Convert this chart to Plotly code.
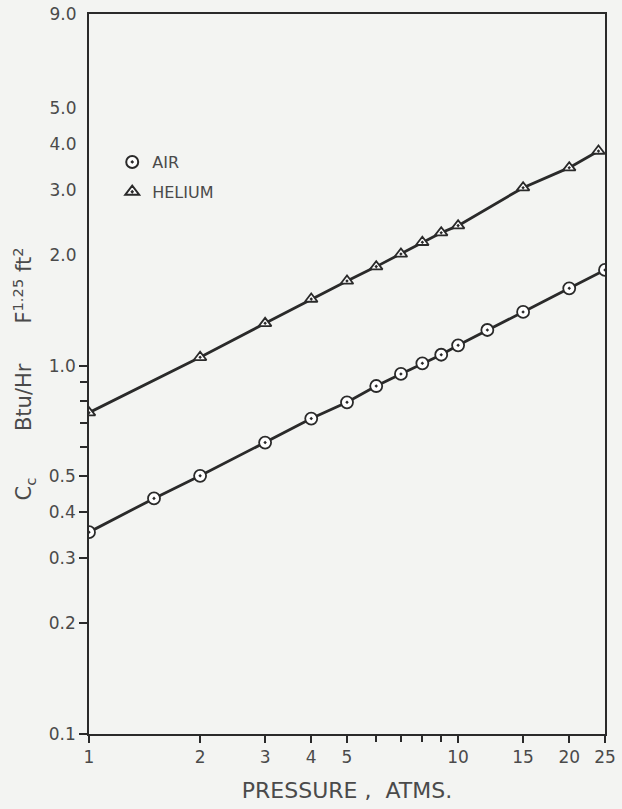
import plotly.graph_objects as go

# Data
air_p = [1, 1.5, 2, 3, 4, 5, 6, 7, 8, 9, 10, 12, 15, 20, 25]
air_c = [0.353, 0.436, 0.502, 0.618, 0.718, 0.795, 0.880, 0.949, 1.014, 1.070, 1.135, 1.249, 1.398, 1.621, 1.818]
he_p = [1, 2, 3, 4, 5, 6, 7, 8, 9, 10, 15, 20, 24]
he_c = [0.745, 1.053, 1.302, 1.516, 1.697, 1.856, 2.009, 2.161, 2.295, 2.398, 3.040, 3.445, 3.823]

x_tickvals = [1, 2, 3, 4, 5, 10, 15, 20, 25]
x_ticktext = ["1", "2", "3", "4", "5", "10", "15", "20", "25"]
x_minor = [6, 7, 8, 9]
y_tickvals_lo = [0.1, 0.2, 0.3, 0.4, 0.5, 1.0]
y_ticktext_lo = ["0.1", "0.2", "0.3", "0.4", "0.5", "1.0"]
y_minor = [0.6, 0.7, 0.8, 0.9]
y_tickvals_hi = [2.0, 3.0, 4.0, 5.0, 9.0]
y_ticktext_hi = ["2.0", "3.0", "4.0", "5.0", "9.0"]

ink = "#2a2a2a"
txt = "#4a4a4a"
bg = "#f3f4f2"
font = "DejaVu Sans"
xr = [0, 1.39794]
yr = [-1, 0.95424]

fig = go.Figure()
fig.add_trace(go.Scatter(x=air_p, y=air_c, mode="lines+markers", showlegend=False,
                         line=dict(color=ink, width=2.8),
                         marker=dict(symbol="circle-dot", size=12, color="white",
                                     line=dict(color=ink, width=1.8))))
fig.add_trace(go.Scatter(x=he_p, y=he_c, mode="lines+markers", showlegend=False,
                         line=dict(color=ink, width=2.8),
                         marker=dict(symbol="triangle-up-dot", size=11, color="white",
                                     line=dict(color=ink, width=1.8))))
# legend-only traces
fig.add_trace(go.Scatter(x=[None], y=[None], mode="markers", name="AIR", legendgroup="a",
                         marker=dict(symbol="circle-dot", size=10, color="white",
                                     line=dict(color=ink, width=1.6))))
fig.add_trace(go.Scatter(x=[None], y=[None], mode="markers", name="HELIUM", legendgroup="h",
                         marker=dict(symbol="triangle-up-dot", size=9, color="white",
                                     line=dict(color=ink, width=1.6))))
# dummy traces to activate overlay axes
fig.add_trace(go.Scatter(x=[None], y=[None], yaxis="y2", showlegend=False, hoverinfo="skip"))
fig.add_trace(go.Scatter(x=[None], y=[None], yaxis="y3", showlegend=False, hoverinfo="skip"))
fig.add_trace(go.Scatter(x=[None], y=[None], xaxis="x2", showlegend=False, hoverinfo="skip"))

fig.update_layout(
    width=622, height=809,
    margin=dict(l=89, r=17, t=14, b=75),
    paper_bgcolor=bg, plot_bgcolor=bg,
    font=dict(family=font, color=txt, size=17),
    showlegend=True,
    legend=dict(x=0.045, y=0.818, xanchor="left", yanchor="top",
                bgcolor="rgba(0,0,0,0)", font=dict(size=16, color=txt),
                itemsizing="constant", traceorder="grouped", tracegroupgap=6),
    xaxis=dict(type="log", range=xr, automargin=False,
               tickvals=x_tickvals, ticktext=x_ticktext,
               ticks="outside", ticklen=7, tickwidth=1.6, tickcolor=ink,
               showgrid=False, zeroline=False,
               showline=True, linecolor=ink, linewidth=1.6, mirror=True,
               title=dict(text="PRESSURE ,  ATMS.", font=dict(size=22, color=txt), standoff=16),
               tickfont=dict(size=17, color=txt)),
    xaxis2=dict(type="log", range=xr, overlaying="x", side="bottom", automargin=False,
                tickvals=x_minor, showticklabels=False,
                ticks="outside", ticklen=7, tickwidth=1.6, tickcolor=ink,
                showgrid=False, zeroline=False, showline=False),
    yaxis=dict(type="log", range=yr, automargin=False,
               tickvals=y_tickvals_lo, ticktext=y_ticktext_lo,
               ticks="outside", ticklen=8, tickwidth=1.6, tickcolor=ink,
               showgrid=False, zeroline=False,
               showline=True, linecolor=ink, linewidth=1.6, mirror=True,
               title=dict(text="C<sub>c</sub>       Btu/Hr      F<sup>1.25</sup> ft<sup>2</sup>",
                          font=dict(size=21, color=txt), standoff=11),
               tickfont=dict(size=17, color=txt)),
    yaxis2=dict(type="log", range=yr, overlaying="y", side="left", automargin=False,
                tickvals=y_tickvals_hi, ticktext=y_ticktext_hi,
                ticks="outside", ticklen=8, tickcolor="rgba(0,0,0,0)",
                showgrid=False, zeroline=False, showline=False,
                tickfont=dict(size=17, color=txt)),
    yaxis3=dict(type="log", range=yr, overlaying="y", side="left", automargin=False,
                tickvals=y_minor, showticklabels=False,
                ticks="outside", ticklen=8, tickwidth=1.6, tickcolor=ink,
                showgrid=False, zeroline=False, showline=False),
)

fig.write_html("out.html", config={"displayModeBar": False},
               post_script="document.body.style.margin='0';document.body.style.background='%s';" % bg)
